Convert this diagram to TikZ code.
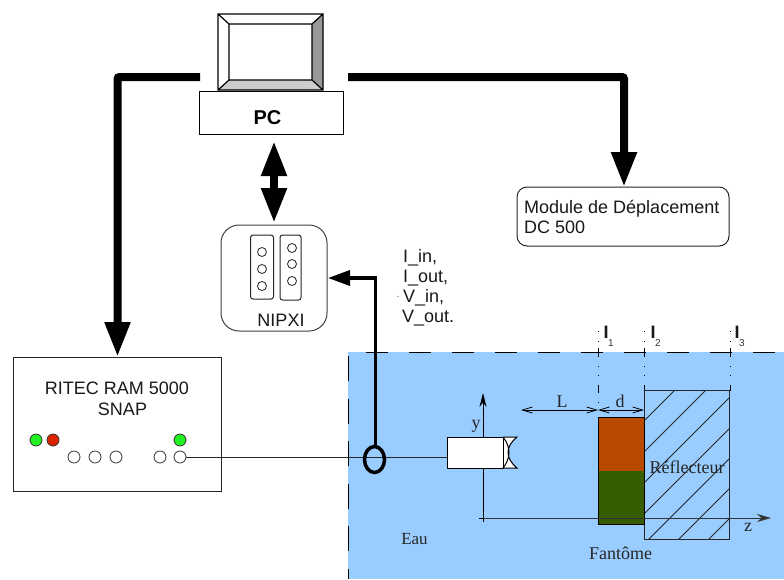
\documentclass[tikz,border=0pt]{standalone}
\usepackage{fontspec}
\setmainfont{Liberation Sans}
\newfontfamily\serifrm{Liberation Serif}
\usetikzlibrary{arrows.meta,calc}
\definecolor{water}{HTML}{99CCFF}
\definecolor{phorange}{HTML}{B84A00}
\definecolor{phgreen}{HTML}{365E00}
\definecolor{ledgreen}{HTML}{22EE22}
\definecolor{ledred}{HTML}{DD2200}
\tikzset{
  thickconn/.style={line width=8pt,rounded corners=2pt,-{Triangle[length=35pt,width=24pt]}},
  slot/.style={draw=black!85,line width=1pt,rounded corners=2.5pt,fill=white},
  hole/.style={circle,draw=black!85,line width=0.8pt,minimum size=9pt,inner sep=0pt,fill=white},
  led/.style={circle,draw=black!80,line width=0.8pt,minimum size=12pt,inner sep=0pt},
  lab/.style={font=\fontsize{18}{18}\selectfont,inner sep=0pt,anchor=base,text=black!90},
  leftlab/.style={font=\fontsize{18}{18}\selectfont,inner sep=0pt,anchor=base west,text=black!90},
  serif/.style={font=\serifrm\fontsize{18}{18}\selectfont,inner sep=0pt,anchor=base,text=black!85},
  dim/.style={line width=0.8pt,{Straight Barb[length=10pt,width=6pt]}-{Straight Barb[length=10pt,width=6pt]}},
}
\begin{document}
\begin{tikzpicture}[x=1pt,y=-1pt]
\useasboundingbox (0,0) rectangle (784,579);
% water
\fill[water] (348,352) rectangle (784,579);
\draw[line width=1pt,dash pattern=on 22pt off 21pt] (366,352) -- (784,352);
\draw[line width=1pt,dash pattern=on 25pt off 17.5pt] (348,356) -- (348,579);
% monitor
\coordinate (m1) at (218,14); \coordinate (m2) at (323,14); \coordinate (m3) at (323,90); \coordinate (m4) at (218,90);
\coordinate (i1) at (229,24); \coordinate (i2) at (312,24); \coordinate (i3) at (312,80); \coordinate (i4) at (229,80);
\fill[white] (m1) -- (m2) -- (i2) -- (i1) -- cycle;
\fill[white] (m1) -- (i1) -- (i4) -- (m4) -- cycle;
\fill[black!40] (m2) -- (m3) -- (i3) -- (i2) -- cycle;
\fill[black!20] (m3) -- (m4) -- (i4) -- (i3) -- cycle;
\draw[line width=1.2pt] (m1) rectangle (m3) (i1) rectangle (i3) (m1)--(i1) (m2)--(i2) (m3)--(i3) (m4)--(i4);
\node[draw,line width=1pt,fill=white,minimum width=144pt,minimum height=43pt,inner sep=0pt] (pc) at (271,112.5) {};
\node[inner sep=0pt,anchor=base,font=\bfseries\fontsize{20}{20}\selectfont] at (267.5,124) {PC};
% nipxi
\node[draw=black!75,line width=1pt,fill=white,rounded corners=18pt,minimum width=106pt,minimum height=106pt,inner sep=0pt] (nipxi) at (274,278) {};
\draw[slot] (250.5,235) rectangle (273.5,299);
\draw[slot] (280,235) rectangle (301,300);
\foreach \y in {252,269,286} \node[hole] at (262,\y) {};
\foreach \y in {248,264,281} \node[hole] at (292,\y) {};
\node[lab] at (281,326) {NIPXI};
% ritec
\node[draw=black!85,line width=1pt,fill=white,minimum width=208pt,minimum height=134pt,inner sep=0pt] (ritec) at (117,424) {};
\node[lab] at (117,394) {RITEC RAM 5000};
\node[lab] at (122.5,415) {SNAP};
\node[led,fill=ledgreen] at (36,440) {};
\node[led,fill=ledred] at (53,440) {};
\node[led,fill=ledgreen] at (180,440) {};
\node[led,fill=white] at (74,457) {};
\node[led,fill=white] at (95,457) {};
\node[led,fill=white] at (116,457) {};
\node[led,fill=white] at (160,457) {};
\node[led,fill=white] (port) at (180,457) {};
% module
\node[draw=black!85,line width=1pt,fill=white,rounded corners=10pt,minimum width=212pt,minimum height=59pt,inner sep=0pt] (mod) at (623,216.5) {};
\node[leftlab] at (524,213) {Module de Déplacement};
\node[leftlab] at (524,233) {DC 500};
% thick connectors
\coordinate (la) at (200,77); \coordinate (ra) at (348,77);
\draw[thickconn] (la) -- (117.5,77) -- (117.5,357);
\draw[thickconn] (ra) -- (624,77) -- (624,187);
\coordinate (dbl1) at (274,141); \coordinate (dbl2) at (274,223);
\draw[line width=8pt,{Triangle[length=35pt,width=24pt]}-{Triangle[length=35pt,width=24pt]}] (dbl1) -- (dbl2);
% cable
\draw[line width=1pt,black!85] (port) -- (447,457);
\draw[line width=3.5pt] (374.5,459.5) ellipse (10pt and 13pt);
\draw[line width=3.5pt,-{Triangle[length=22pt,width=15pt]}] (375.5,446) -- (375.5,278) -- (328,278);
% side text
\node[leftlab] at (403,262) {I\_in,};
\node[leftlab] at (403,282) {I\_out,};
\node[leftlab] at (403,302) {V\_in,};
\node[leftlab] at (402,322) {V\_out.};
\fill[black!60] (398,296.5) circle (0.6pt);
% axes
\draw[line width=0.8pt,-{Stealth[length=14pt,width=7pt]}] (483,518) -- (483,393);
\draw[line width=0.8pt] (483,514) -- (483,522) (479,518) -- (487,518);
% transducer
\draw[line width=1pt,fill=white] (447,437) rectangle (503,468);
\fill[white] (503,437) -- (517,437) .. controls (505,447) and (505,458) .. (517,468) -- (503,468) -- cycle;
\draw[line width=1pt] (503,437) -- (517,437) .. controls (505,447) and (505,458) .. (517,468) -- (503,468) .. controls (511,458) and (511,447) .. (503,437);
\draw[line width=1pt] (503,437) -- (503,468);
% planes
\foreach \x in {598,644.5,730} {
  \foreach \y in {331,341,366,375} \fill (\x-0.5,\y-0.5) rectangle (\x+0.5,\y+0.5);
  \draw[line width=1pt] (\x,348) -- (\x,357);
}
\draw[line width=1pt] (598,385) -- (598,393);
\fill (597.5,401.5) rectangle (598.5,402.5);
\draw[line width=1pt] (644.5,385) -- (644.5,391);
\draw[line width=1pt] (730,385) -- (730,391);
% reflector
\begin{scope}
\clip (644.5,390.5) rectangle (729.5,539);
\foreach \c in {1065,1096,1127,1158,1188,1218,1248}
  \draw[line width=0.9pt,black!85] (640,\c-640) -- (740,\c-740);
\end{scope}
\draw[line width=1pt,black!85] (644.5,390.5) rectangle (729.5,539);
% phantom
\fill[phorange] (598,417) rectangle (644,471);
\fill[phgreen] (598,471) rectangle (644,524);
\draw[line width=1pt] (598,417) rectangle (644,524);
% z axis
\draw[line width=0.8pt,black!80,-{Stealth[length=14pt,width=8pt]}] (483,518) -- (771,518);
% dims
\coordinate (d0) at (521,410); \coordinate (d1) at (598,410); \coordinate (d2) at (644,410);
\draw[dim] (d0) -- (d1);
\draw[dim] (d1) -- (d2);
% labels
\node[serif] at (562,407) {L};
\node[serif] at (620,407) {d};
\node[serif] at (476,428) {y};
\node[serif] at (748,531) {z};
\node[serif] at (687,473) {Réflecteur};
\node[serif] at (620.5,559) {Fantôme};
\node[serif,font=\serifrm\fontsize{17}{17}\selectfont] at (414.5,544) {Eau};
\foreach \x/\n in {606/1,653/2,737/3} {
  \node[lab,font=\bfseries\fontsize{18}{18}\selectfont] at (\x,338) {I};
  \node[inner sep=0pt,anchor=base,font=\fontsize{10}{10}\selectfont,text=black!80] at (\x+5,346) {\n};
}
\end{tikzpicture}
\end{document}
